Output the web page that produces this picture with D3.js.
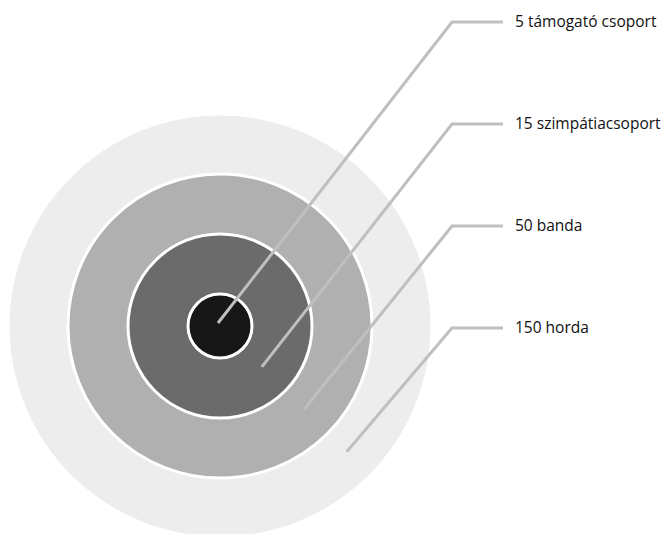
<!DOCTYPE html>
<html>
<head>
<meta charset="utf-8">
<script src="https://cdn.jsdelivr.net/npm/d3@7"></script>
<style>
	body { margin: 0; background: #fff; }
	.label-text { font-family: 'Open Sans', Lato, sans-serif; font-size: 15.5px; fill: #111; }
</style>
</head>
<body>
<svg id="chart-svg" width="670" height="534"></svg>
<script>
// Group sizes, inner ring to outer ring
const groupSizes = [5, 15, 50, 150];
const groupNames = ['támogató csoport', 'szimpátiacsoport', 'banda', 'horda'];
const ringColors = ['#171717', '#6b6b6b', '#b0b0b0', '#ededed'];

let svg = d3.select('#chart-svg');

const cx = 220;
const cy = 326;

// ring index -> outer radius (rings are evenly spaced)
const radiusScale = d3.scaleLinear().domain([0, groupSizes.length]).range([-28, 212]);

// labels stacked on the right, one row per group
const labelY = d3.scalePoint().domain(groupSizes).range([22, 328]);

let rings = groupSizes.map((d, i) => ({ size: d, name: groupNames[i], color: ringColors[i], index: i }));

// Draw circles from outermost to innermost
svg
	.selectAll('circle.ring')
	.data(rings.slice().reverse())
	.enter()
	.append('circle')
	.attr('class', 'ring')
	.attr('cx', cx)
	.attr('cy', cy)
	.attr('r', (d) => radiusScale(d.index + 1))
	.attr('fill', (d) => d.color)
	.attr('stroke', '#fff')
	.attr('stroke-width', 3);

// Leader lines: start in the middle of each ring, diagonally down-right
const elbowX = 452;
const lineEndX = 503;
let leaderG = svg.selectAll('g.leader').data(rings).enter().append('g').attr('class', 'leader');

leaderG
	.append('polyline')
	.attr('points', (d) => {
		let rMid = d.index === 0 ? 0 : (radiusScale(d.index) + radiusScale(d.index + 1)) / 2;
		let sx = cx + rMid * Math.SQRT1_2 - 2;
		let sy = cy + rMid * Math.SQRT1_2 - 3;
		let y = labelY(d.size);
		return [ [ sx, sy ], [ elbowX, y ], [ lineEndX, y ] ].map((p) => p.join(',')).join(' ');
	})
	.attr('fill', 'none')
	.attr('stroke', '#bfbfbf')
	.attr('stroke-width', 3);

leaderG
	.append('text')
	.attr('class', 'label-text')
	.attr('x', 515)
	.attr('y', (d) => labelY(d.size))
	.attr('dy', '0.35em')
	.text((d) => d.size + ' ' + d.name);
</script>
</body>
</html>
